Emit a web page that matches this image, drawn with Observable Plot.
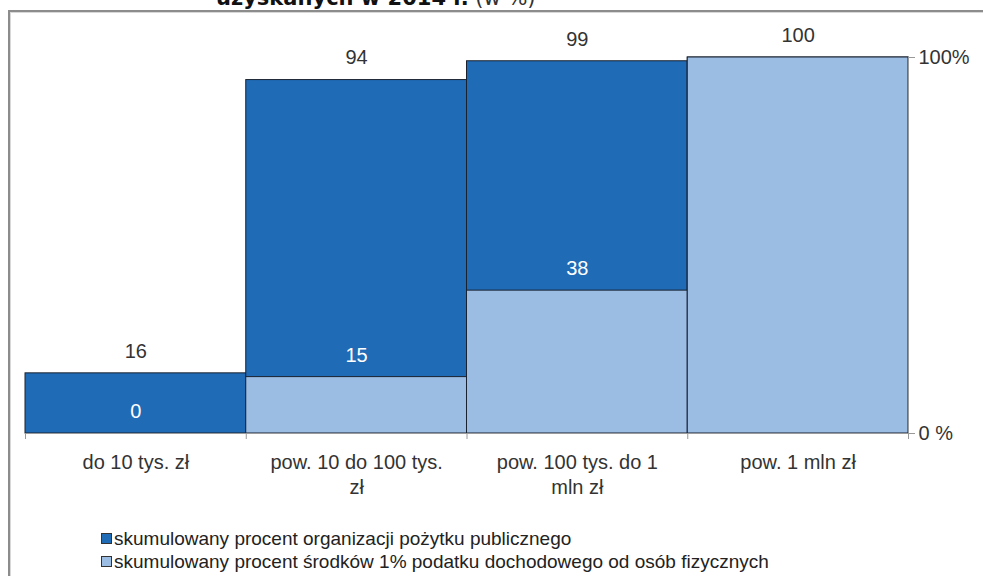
<!DOCTYPE html>
<html>
<head>
<meta charset="utf-8">
<script src="https://cdn.jsdelivr.net/npm/d3@7"></script>
<script src="https://cdn.jsdelivr.net/npm/@observablehq/plot@0.6"></script>
<style>
  html, body { margin: 0; padding: 0; background: #fff; }
  #wrap { position: relative; width: 983px; height: 576px; overflow: hidden; background: #fff; font-family: "Liberation Sans", Arial, sans-serif; }
  #frame { position: absolute; left: 8px; top: 10px; width: 1000px; height: 600px; border-left: 2px solid #8c8c8c; border-top: 2px solid #8c8c8c; box-shadow: inset 1px 1px 0 #d8d8d8; }
  #title { position: absolute; left: 216px; top: -13px; font-family: "DejaVu Sans", Verdana, sans-serif; font-size: 21px; line-height: 22px; white-space: nowrap; color: #111; }
  #title b { font-weight: bold; }
  #title span { font-weight: normal; color: #333; }
  #chart { position: absolute; left: 0; top: 0; }
  #legend { position: absolute; left: 101px; top: 527px; font-size: 19px; color: #222; }
  #legend .row { height: 23px; line-height: 21px; display: flex; align-items: center; white-space: nowrap; }
  #legend .sw { width: 9px; height: 9px; border: 1px solid #333; margin-right: 2px; }
</style>
</head>
<body>
<div id="wrap">
  <div id="frame"></div>
  <div id="title"><b>uzyskanych w 2014 r.</b> <span>(w %)</span></div>
  <div id="chart"></div>
  <div id="legend"></div>
</div>
<script>
const categories = ["do 10 tys. zł", "pow. 10 do 100 tys.\nzł", "pow. 100 tys. do 1\nmln zł", "pow. 1 mln zł"];
const orgCumulative = [16, 94, 99, 100];
const fundCumulative = [0, 15, 38, 100];
const seriesNames = [
  "skumulowany procent organizacji pożytku publicznego",
  "skumulowany procent środków 1% podatku dochodowego od osób fizycznych"
];
const seriesColors = ["#1f6bb6", "#9bbce3"];
const yTicks = [0, 100];
const yTickLabels = ["0 %", "100%"];

const rows = categories.map((c, i) => ({ i, cat: c, org: orgCumulative[i], fund: fundCumulative[i] }));
const boundaries = d3.range(categories.length + 1);

const chart = Plot.plot({
  width: 983,
  height: 500,
  marginLeft: 25,
  marginRight: 75,
  marginTop: 57,
  marginBottom: 67,
  style: { fontFamily: "'Liberation Sans', Arial, sans-serif", background: "transparent", color: "#333", overflow: "visible" },
  x: { domain: [0, categories.length] },
  y: { domain: [0, 100] },
  marks: [
    Plot.rectY(rows, { x1: d => d.i, x2: d => d.i + 1, y1: 0, y2: "org", fill: seriesColors[0], stroke: "#1a2230", strokeWidth: 1 }),
    Plot.rectY(rows, { x1: d => d.i, x2: d => d.i + 1, y1: 0, y2: "fund", fill: seriesColors[1], stroke: "#1a2230", strokeWidth: 1 }),
    Plot.ruleY([0], { stroke: "#999" }),
    Plot.ruleX([categories.length], { stroke: "#999", y1: 0, y2: 100 }),
    Plot.axisX({ ticks: boundaries, tickSize: 6, tickFormat: () => "", stroke: "#999", label: null }),
    Plot.axisY({ anchor: "right", ticks: yTicks, tickFormat: d => yTickLabels[yTicks.indexOf(d)], tickSize: 6, tickPadding: 4, stroke: "#999", fill: "#333", fontSize: 20, label: null }),
    Plot.text(rows, { x: d => d.i + 0.5, y: 0, text: "cat", dy: 18, lineAnchor: "top", lineHeight: 1.25, fontSize: 20, fill: "#333" }),
    Plot.text(rows.filter(d => d.fund < d.org), { x: d => d.i + 0.5, y: "fund", text: d => String(d.fund), dy: -22, fontSize: 20, fill: "white" }),
    Plot.text(rows, { x: d => d.i + 0.5, y: "org", text: d => String(d.org), dy: -22, fontSize: 20, fill: "#333" })
  ]
});
document.getElementById("chart").appendChild(chart);

const legend = document.getElementById("legend");
seriesNames.forEach((name, k) => {
  const row = document.createElement("div");
  row.className = "row";
  const sw = document.createElement("div");
  sw.className = "sw";
  sw.style.background = seriesColors[k];
  const t = document.createElement("span");
  t.textContent = name;
  row.appendChild(sw);
  row.appendChild(t);
  legend.appendChild(row);
});
</script>
</body>
</html>
